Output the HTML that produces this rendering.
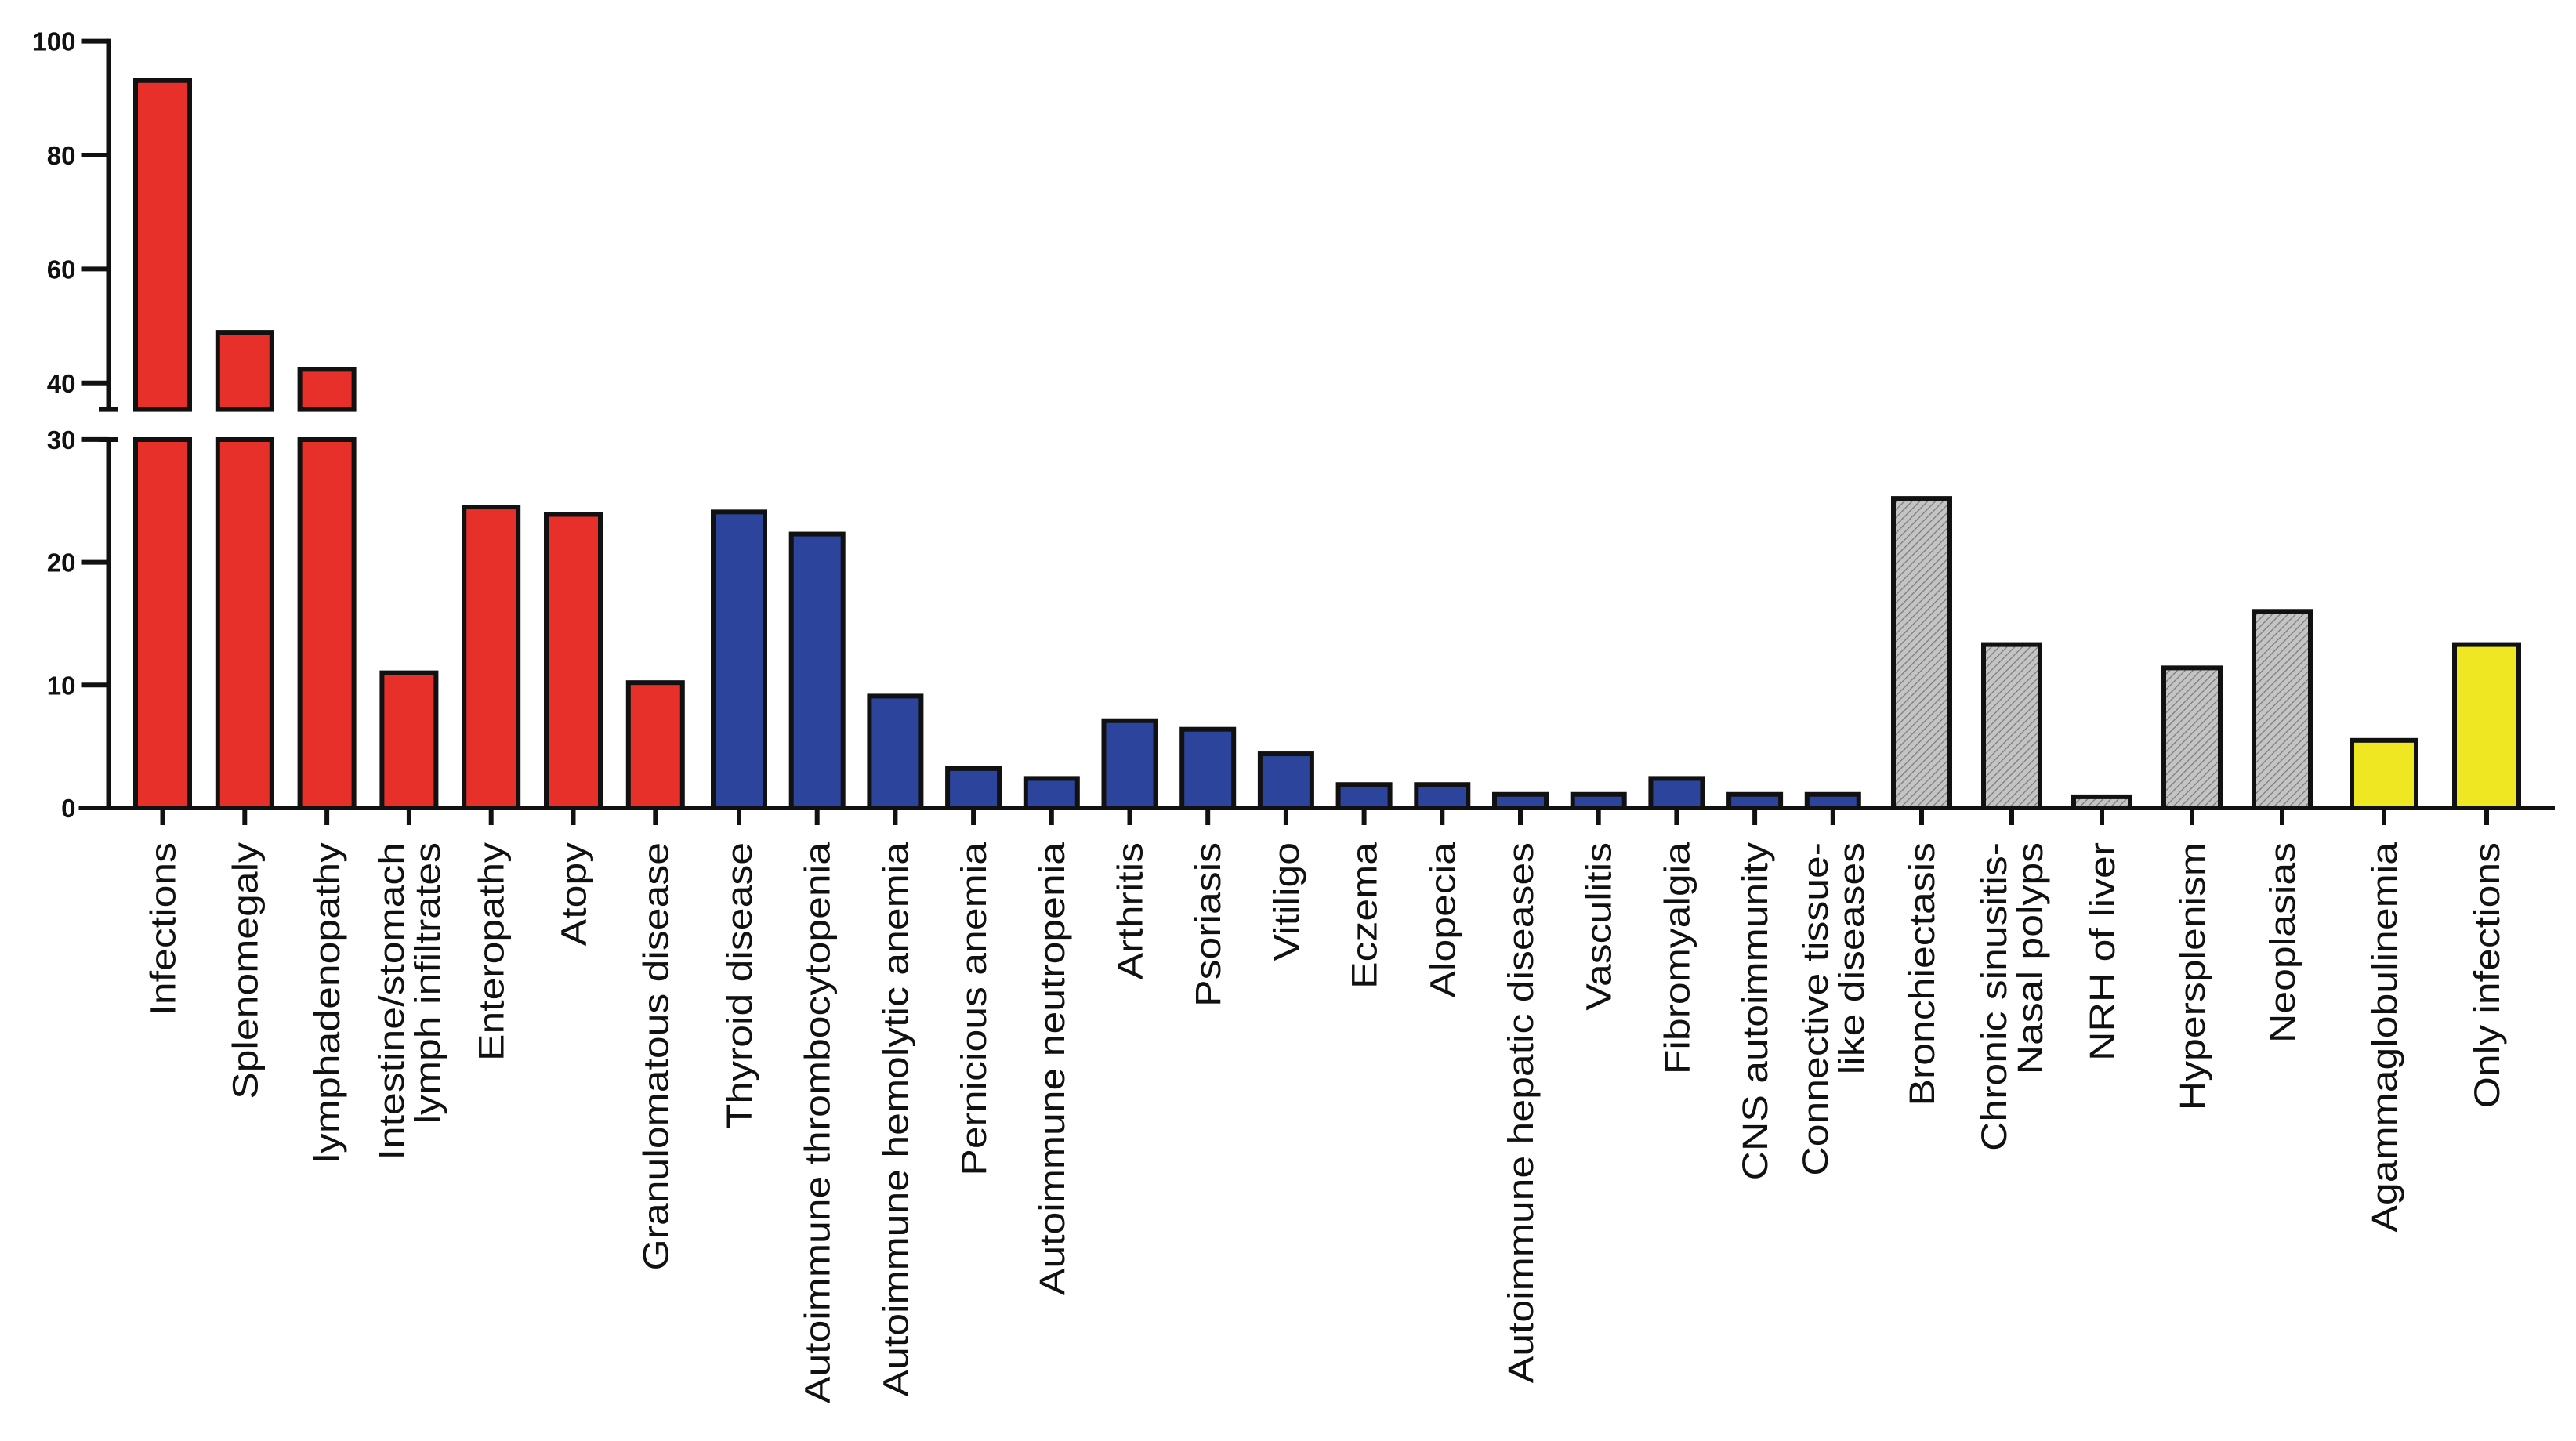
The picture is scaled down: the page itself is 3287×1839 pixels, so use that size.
<!DOCTYPE html>
<html><head><meta charset="utf-8">
<style>
html,body{margin:0;padding:0;background:#fff;}
svg{display:block;}
</style></head>
<body>
<svg id="chart" width="3287" height="1839" viewBox="0 0 3287 1839" xmlns="http://www.w3.org/2000/svg">
<defs>
<pattern id="hatch" patternUnits="userSpaceOnUse" width="7" height="7" patternTransform="rotate(45)">
<rect width="7" height="7" fill="#c4c4c4"/>
<line x1="0" y1="0" x2="0" y2="7" stroke="#7a7a7a" stroke-width="2.5"/>
</pattern>
</defs>
<g id="bars"></g>
<g id="axes"></g>
<g id="xlabels"></g>
</svg>
<script>
const categories = ["Infections","Splenomegaly","lymphadenopathy","Intestine/stomach|lymph infiltrates","Enteropathy","Atopy","Granulomatous disease",
"Thyroid disease","Autoimmune thrombocytopenia","Autoimmune hemolytic anemia","Pernicious anemia","Autoimmune neutropenia","Arthritis","Psoriasis","Vitiligo","Eczema","Alopecia","Autoimmune hepatic diseases","Vasculitis","Fibromyalgia","CNS autoimmunity","Connective tissue-|like diseases",
"Bronchiectasis","Chronic sinusitis-|Nasal polyps","NRH of liver","Hypersplenism","Neoplasias",
"Agammaglobulinemia","Only infections"];
const values = [93.1,48.9,42.4,11.0,24.5,23.9,10.2,
24.1,22.3,9.1,3.2,2.4,7.1,6.4,4.4,1.9,1.9,1.1,1.1,2.4,1.1,1.1,
25.2,13.3,0.9,11.4,16.0,
5.5,13.3];
const groups = ["red","red","red","red","red","red","red",
"blue","blue","blue","blue","blue","blue","blue","blue","blue","blue","blue","blue","blue","blue","blue",
"grey","grey","grey","grey","grey",
"yellow","yellow"];
const upperTicks = [40,60,80,100];
const lowerTicks = [0,10,20,30];

const NS="http://www.w3.org/2000/svg";
const layout = {
  red:{start:207.5,step:104.8,w:69,fill:"#e8302a"},
  blue:{start:943,step:99.7,w:66,fill:"#2d449c"},
  grey:{start:2452,step:115,w:72,fill:"url(#hatch)"},
  yellow:{start:3042,step:131,w:82,fill:"#efe722"}
};
const Y0=1031, LOW_PX=15.67, LOW_MAX=30, LOW_TOP=561;
const UP_TOP=52.6, UP_PX=7.27, BREAK=35, UP_BOT=522.6;
function yLow(v){return Y0 - Math.min(v,LOW_MAX)*LOW_PX;}
function yUp(v){return UP_TOP + (100-v)*UP_PX;}
function xCenter(i){
  const g=groups[i]; const first=groups.indexOf(g);
  return layout[g].start + (i-first)*layout[g].step;
}
function mk(tag,attrs,parent){const e=document.createElementNS(NS,tag);for(const k in attrs)e.setAttribute(k,attrs[k]);parent.appendChild(e);return e;}

const barsG=document.getElementById('bars');
const axesG=document.getElementById('axes');
const labG=document.getElementById('xlabels');

values.forEach((v,i)=>{
  const g=layout[groups[i]]; const cx=xCenter(i);
  const x=cx-g.w/2;
  const yt = v>LOW_MAX ? LOW_TOP : yLow(v);
  const r=mk('rect',{x:x,y:yt,width:g.w,height:Y0-yt,fill:g.fill,stroke:"#111",'stroke-width':6},barsG);
  
  
  if(v>BREAK){
    const yu=yUp(v);
    const r2=mk('rect',{x:x,y:yu,width:g.w,height:UP_BOT-yu,fill:g.fill,stroke:"#111",'stroke-width':6},barsG);
    
    
  }
  const t=mk('line',{x1:cx,y1:Y0,x2:cx,y2:Y0+22,stroke:"#111",'stroke-width':6},axesG);
  
  
  const lines=categories[i].split('|');
  lines.forEach((ln,k)=>{
    const off=(k-(lines.length-1)/2)*46;
    const tx=cx+off+16;
    const ty=1075;
    const te=mk('text',{x:0,y:0,transform:`translate(${tx} ${ty}) rotate(-90) scale(1.15 1)`,'text-anchor':'end','font-family':'"Liberation Sans", sans-serif','font-size':45,fill:"#111"},labG);
    te.textContent=ln;
    
    
  });
});
const AX=138.5;
let l;
l=mk('line',{x1:AX,y1:UP_TOP-3,x2:AX,y2:UP_BOT,stroke:"#111",'stroke-width':6},axesG);


l=mk('line',{x1:AX,y1:LOW_TOP,x2:AX,y2:Y0,stroke:"#111",'stroke-width':6},axesG);


l=mk('line',{x1:126,y1:UP_BOT,x2:151,y2:UP_BOT,stroke:"#111",'stroke-width':6},axesG);


l=mk('line',{x1:126,y1:LOW_TOP,x2:151,y2:LOW_TOP,stroke:"#111",'stroke-width':6},axesG);


l=mk('line',{x1:AX-38,y1:Y0,x2:3260,y2:Y0,stroke:"#111",'stroke-width':6},axesG);


function ytick(y,lab){
  const tl=mk('line',{x1:AX-35,y1:y,x2:AX,y2:y,stroke:"#111",'stroke-width':6},axesG);
  
  
  const tt=mk('text',{x:AX-42,y:y+12,'text-anchor':'end','font-family':'"Liberation Sans", sans-serif','font-weight':'bold','font-size':33,fill:"#111"},axesG);
  tt.textContent=lab;
  
  
}
upperTicks.forEach(v=>ytick(yUp(v),v));
lowerTicks.forEach(v=>ytick(yLow(v),v));
</script>
</body></html>
